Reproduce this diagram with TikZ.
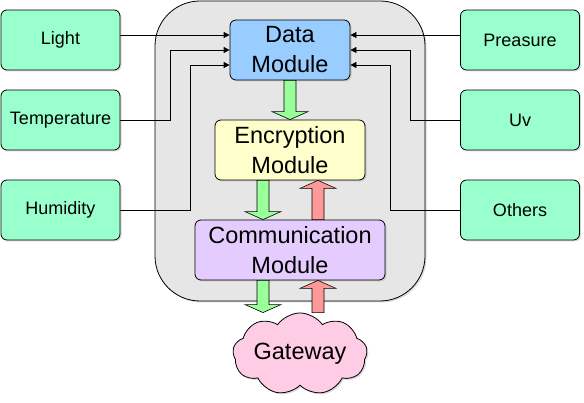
\documentclass[tikz,border=0pt]{standalone}
\usepackage{fontspec}
\setmainfont{Liberation Sans}
\usetikzlibrary{arrows.meta,calc,positioning,shapes.symbols,shadows}
\definecolor{sensorfill}{HTML}{99FFCC}
\definecolor{datafill}{HTML}{99CCFF}
\definecolor{encfill}{HTML}{FFFFCC}
\definecolor{commfill}{HTML}{E5CCFF}
\definecolor{gwfill}{HTML}{FFCCE6}
\definecolor{upfill}{HTML}{FF9999}
\definecolor{downfill}{HTML}{99FF99}
\definecolor{boxfill}{HTML}{E6E6E6}
\begin{document}
\begin{tikzpicture}[x=1pt,y=1pt,line width=0.8pt,>={Triangle[length=6pt,width=6pt]},
  shade/.style={drop shadow={shadow xshift=1.5pt,shadow yshift=-1.5pt,opacity=0.3}},
  box/.style={draw,rounded corners=6pt,shade,inner sep=2pt},
  sensor/.style={box,fill=sensorfill,minimum width=119pt,minimum height=60pt,font=\fontsize{18}{21}\selectfont},
  module/.style={box,minimum height=60pt,align=center,font=\fontsize{23.5}{30}\selectfont},
  fat/.style={draw,line width=0.6pt,to path={let \p1=(\tikztostart),\p2=(\tikztotarget),
    \p3=($(\tikztotarget)!8pt!(\tikztostart)$) in
    (\x1-6pt,\y1) -- (\x1-6pt,\y3) -- (\x1-18pt,\y3) -- (\x2,\y2) -- (\x1+18pt,\y3)
    -- (\x1+6pt,\y3) -- (\x1+6pt,\y1) -- cycle}}]
\useasboundingbox (0,0) rectangle (584,403);
\draw[fill=boxfill,rounded corners=45pt,shade] (155,102) rectangle (425,402);
\foreach \n/\t/\y in {light/Light/363,temp/Temperature/283,hum/Humidity/193}
  \node[sensor] (\n) at (60.5,\y) {\t};
\foreach \n/\t/\y in {pres/Preasure/363,uv/Uv/283,oth/Others/193}
  \node[sensor] (\n) at (520,\y) {\t};
\node[module,fill=datafill,minimum width=120pt] (data) at (290,353) {Data\\Module};
\node[module,fill=encfill,minimum width=150pt] (enc) at (290,253) {Encryption\\Module};
\node[module,fill=commfill,minimum width=190pt] (comm) at (290,153) {Communication\\Module};
\node[cloud,draw,fill=gwfill,shade,cloud puffs=9,cloud puff arc=110,aspect=2.1,
  minimum width=128pt,minimum height=56pt,inner sep=0pt,font=\fontsize{23.5}{28}\selectfont] (gw) at (300,49) {Gateway};
\coordinate (d1) at ([yshift=15pt]data.west);
\coordinate (d2) at (data.west);
\coordinate (d3) at ([yshift=-15pt]data.west);
\coordinate (e1) at ([yshift=15pt]data.east);
\coordinate (e2) at (data.east);
\coordinate (e3) at ([yshift=-15pt]data.east);
\draw[->] (light.east |- d1) -- (d1);
\draw[->] (temp.east) -- ++(50,0) |- (d2);
\draw[->] (hum.east) -- ++(70,0) |- (d3);
\draw[->] (pres.west |- e1) -- (e1);
\draw[->] (uv.west) -- ++(-50,0) |- (e2);
\draw[->] (oth.west) -- ++(-70,0) |- (e3);
\draw[fat,fill=downfill] (data.south) to (enc.north);
\draw[fat,fill=downfill] ([xshift=-27pt]enc.south) to ([xshift=-27pt]comm.north);
\draw[fat,fill=upfill] ([xshift=28pt]comm.north) to ([xshift=28pt]enc.south);
\draw[fat,fill=downfill] ([xshift=-27pt]comm.south) to ([xshift=-27pt]comm.south |- gw.north);
\draw[fat,fill=upfill] ([xshift=28pt]comm.south |- gw.north) to ([xshift=28pt]comm.south);
\end{tikzpicture}
\end{document}
